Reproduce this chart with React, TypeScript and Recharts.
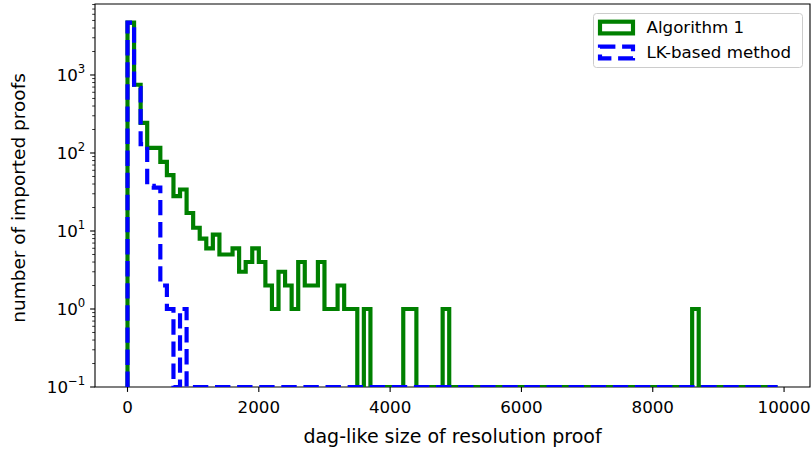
import React from 'react'
import { LineChart, Line, XAxis, YAxis, ReferenceArea } from 'recharts'

// histogram bins: 99 bins of width 100 starting at 0
const binWidth = 100

// counts per bin (0 = empty bin)
const algorithm1Counts = [
  4700, 750, 243, 116, 116, 77, 52, 28, 34, 17,
  11, 8, 6, 9, 5, 5, 6, 3, 4, 6,
  4, 2, 1, 3, 2, 1, 4, 2, 2, 4,
  1, 1, 2, 1, 1, 0, 1, 0, 0, 0,
  0, 0, 1, 1, 0, 0, 0, 0, 1, 0,
  0, 0, 0, 0, 0, 0, 0, 0, 0, 0,
  0, 0, 0, 0, 0, 0, 0, 0, 0, 0,
  0, 0, 0, 0, 0, 0, 0, 0, 0, 0,
  0, 0, 0, 0, 0, 0, 1, 0, 0, 0,
  0, 0, 0, 0, 0, 0, 0, 0, 0,
]
const lkCounts = [
  4700, 680, 130, 38, 36, 2, 1, 0, 1, 0,
  0, 0, 0, 0, 0, 0, 0, 0, 0, 0,
  0, 0, 0, 0, 0, 0, 0, 0, 0, 0,
  0, 0, 0, 0, 0, 0, 0, 0, 0, 0,
  0, 0, 0, 0, 0, 0, 0, 0, 0, 0,
  0, 0, 0, 0, 0, 0, 0, 0, 0, 0,
  0, 0, 0, 0, 0, 0, 0, 0, 0, 0,
  0, 0, 0, 0, 0, 0, 0, 0, 0, 0,
  0, 0, 0, 0, 0, 0, 0, 0, 0, 0,
  0, 0, 0, 0, 0, 0, 0, 0, 0,
]

const seriesNames = ['Algorithm 1', 'LK-based method']
const seriesColors = ['#008000', '#0000ff']
const seriesDashes = [undefined, '15.4 6.7']

const xTicks = [0, 2000, 4000, 6000, 8000, 10000]
const yMajorTicks = [0.1, 1, 10, 100, 1000]
const yExponents = ['\u22121', '0', '1', '2', '3']

const xDomain = [-495, 10395]
const yDomain = [0.1, 8128]

const FONT = 'DejaVu Sans, sans-serif'
const FS = 16.7
const PLOT_LEFT = 95
const PLOT_BOTTOM = 387

// minor log ticks 2..9 x 10^k inside the domain
const yMinorTicks: number[] = []
yMajorTicks.forEach(t => {
  for (let m = 2; m <= 9; m++) {
    const v = +(t * m).toPrecision(3)
    if (v <= yDomain[1]) yMinorTicks.push(v)
  }
})

// outline of a step histogram: up from the floor, across every bin, back down
function stepOutline(counts: number[]) {
  const floor = yDomain[0]
  const pts = [{ x: 0, y: floor }]
  counts.forEach((c, i) => pts.push({ x: i * binWidth, y: c > 0 ? c : floor }))
  const last = counts[counts.length - 1]
  pts.push({ x: counts.length * binWidth, y: last > 0 ? last : floor })
  pts.push({ x: counts.length * binWidth, y: floor })
  return pts
}

const outlines = [stepOutline(algorithm1Counts), stepOutline(lkCounts)]

function XTick(props: any) {
  const { x, payload } = props
  return (
    <g>
      <line x1={x} x2={x} y1={PLOT_BOTTOM} y2={PLOT_BOTTOM + 4.9} stroke="#000" strokeWidth={1.1} />
      <text x={x} y={413} textAnchor="middle" fontSize={FS} fontFamily={FONT} fill="#000">
        {payload.value}
      </text>
    </g>
  )
}

function YTick(props: any) {
  const { y, payload } = props
  const idx = yMajorTicks.indexOf(payload.value)
  if (idx < 0) {
    return <line x1={PLOT_LEFT} x2={PLOT_LEFT - 2.8} y1={y} y2={y} stroke="#000" strokeWidth={0.8} />
  }
  return (
    <g>
      <line x1={PLOT_LEFT} x2={PLOT_LEFT - 4.9} y1={y} y2={y} stroke="#000" strokeWidth={1.1} />
      <text x={85.3} y={y + 6} textAnchor="end" fontSize={FS} fontFamily={FONT} fill="#000">
        10<tspan fontSize={11.7} dy={-8}>{yExponents[idx]}</tspan>
      </text>
    </g>
  )
}

function LegendBox() {
  return (
    <svg width={210} height={55} style={{ position: 'absolute', left: 593, top: 13, display: 'block' }}>
      <rect x={0.5} y={0.5} width={209} height={54} rx={3} fill="rgba(255,255,255,0.8)" stroke="#cccccc" />
      {seriesNames.map((name, i) => (
        <g key={name}>
          <rect x={7} y={8.7 + i * 25} width={33} height={11.7} fill="none"
            stroke={seriesColors[i]} strokeWidth={4.17} strokeDasharray={seriesDashes[i]} />
          <text x={53.5} y={20 + i * 25} fontSize={FS} fontFamily={FONT} fill="#000">{name}</text>
        </g>
      ))}
    </svg>
  )
}

export default function App() {
  return (
    <div style={{ position: 'absolute', left: 0, top: 0, width: 812, height: 450, background: '#fff', fontFamily: FONT }}>
      <LineChart width={812} height={450} margin={{ top: 4, right: 2, bottom: 0, left: 0 }}>
        <XAxis type="number" dataKey="x" domain={xDomain} allowDataOverflow ticks={xTicks} interval={0}
          height={63} axisLine={false} tickLine={false} tick={<XTick />} />
        <YAxis type="number" scale="log" domain={yDomain} allowDataOverflow
          ticks={[...yMajorTicks, ...yMinorTicks]} interval={0}
          width={95} axisLine={false} tickLine={false} tick={<YTick />} />
        <ReferenceArea x1={xDomain[0]} x2={xDomain[1]} y1={yDomain[0]} y2={yDomain[1]}
          fill="none" stroke="#000" strokeWidth={1.1} ifOverflow="visible" />
        {outlines.map((pts, i) => (
          <Line key={seriesNames[i]} data={pts} dataKey="y" name={seriesNames[i]} type="stepAfter"
            stroke={seriesColors[i]} strokeWidth={4.17} strokeDasharray={seriesDashes[i]}
            strokeLinejoin="miter" strokeLinecap="butt"
            dot={false} activeDot={false} isAnimationActive={false} />
        ))}
        <text x={452.5} y={443} textAnchor="middle" fontSize={19} fontFamily={FONT} fill="#000">
          dag-like size of resolution proof
        </text>
        <text x={25} y={198} textAnchor="middle" fontSize={18.5} fontFamily={FONT} fill="#000"
          transform="rotate(-90 25 198)">
          number of imported proofs
        </text>
      </LineChart>
      <LegendBox />
    </div>
  )
}
